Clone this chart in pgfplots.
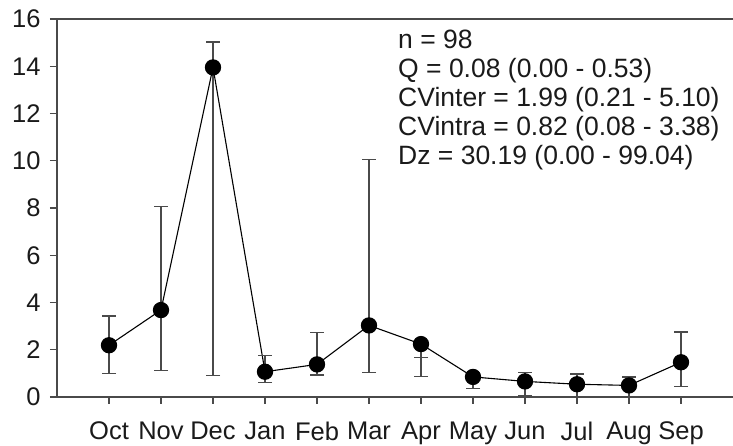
\documentclass[border=0pt]{standalone}
\usepackage{fontspec}
\setmainfont{Liberation Sans}
\usepackage{pgfplots}
\pgfplotsset{compat=1.18}
\definecolor{axgray}{HTML}{4A4A4A}
\definecolor{txt}{HTML}{1A1A1A}
\begin{document}
\begin{tikzpicture}[x=1pt,y=1pt]
\begin{axis}[
  at={(0pt,0pt)}, anchor=south west,
  scale only axis, width=676pt, height=378pt,
  xmin=-1, xmax=12, ymin=0, ymax=16,
  axis x line*=bottom, axis y line*=left,
  axis line style={-, axgray, line width=1.3pt},
  tick style={axgray, line width=1.3pt},
  tick align=outside, major tick length=7pt,
  xtick={0,...,11},
  xticklabels={Oct,Nov,Dec,Jan,Feb,Mar,Apr,May,Jun,Jul,Aug,Sep},
  ytick={0,2,...,16},
  every tick label/.append style={font=\fontsize{25.5}{28}\selectfont, text=txt},
  xticklabel style={yshift=-14pt},
  yticklabel style={xshift=-6pt},
  /pgf/number format/assume math mode=true,
  clip=false,
]
\addplot[black, line width=1.1pt, mark=*, mark size=7.6pt, mark options={fill=black, solid},
  error bars/.cd, y dir=both, y explicit,
  error mark=-,
  error mark options={rotate=90, axgray, line width=1.2pt, mark size=7pt},
  error bar style={axgray, line width=1.2pt}]
coordinates {
(0,2.19)  += (0,1.24)  -= (0,1.19)
(1,3.68)  += (0,4.39)  -= (0,2.57)
(2,13.95) += (0,1.08)  -= (0,13.03)
(3,1.07)  += (0,0.67)  -= (0,0.46)
(4,1.38)  += (0,1.36)  -= (0,0.45)
(5,3.03)  += (0,7.03)  -= (0,2.01)
(6,2.24)  += (0,-0.58) -= (0,1.36)
(7,0.85)  += (0,0.18)  -= (0,0.48)
(8,0.66)  += (0,0.38)  -= (0,0.58)
(9,0.54)  += (0,0.43)  -= (0,0.53)
(10,0.49) += (0,0.36)  -= (0,0.47)
(11,1.47) += (0,1.28)  -= (0,1.02)
};
\draw[axgray, line width=1.3pt] (rel axis cs:0,1) -- (rel axis cs:1,1);
\end{axis}
\begin{scope}[every node/.style={anchor=base west, inner sep=0pt, text=txt, font=\fontsize{26.5}{29}\selectfont}]
\node at (341pt,348.7pt) {n = 98};
\node at (341pt,319.7pt) {Q = 0.08 (0.00 - 0.53)};
\node at (341pt,290.7pt) {CVinter = 1.99 (0.21 - 5.10)};
\node at (341pt,261.7pt) {CVintra = 0.82 (0.08 - 3.38)};
\node at (341pt,232.7pt) {Dz = 30.19 (0.00 - 99.04)};
\end{scope}
\pgfresetboundingbox
\path[use as bounding box] (-57pt,-49pt) rectangle (676pt,397pt);
\end{tikzpicture}
\end{document}
